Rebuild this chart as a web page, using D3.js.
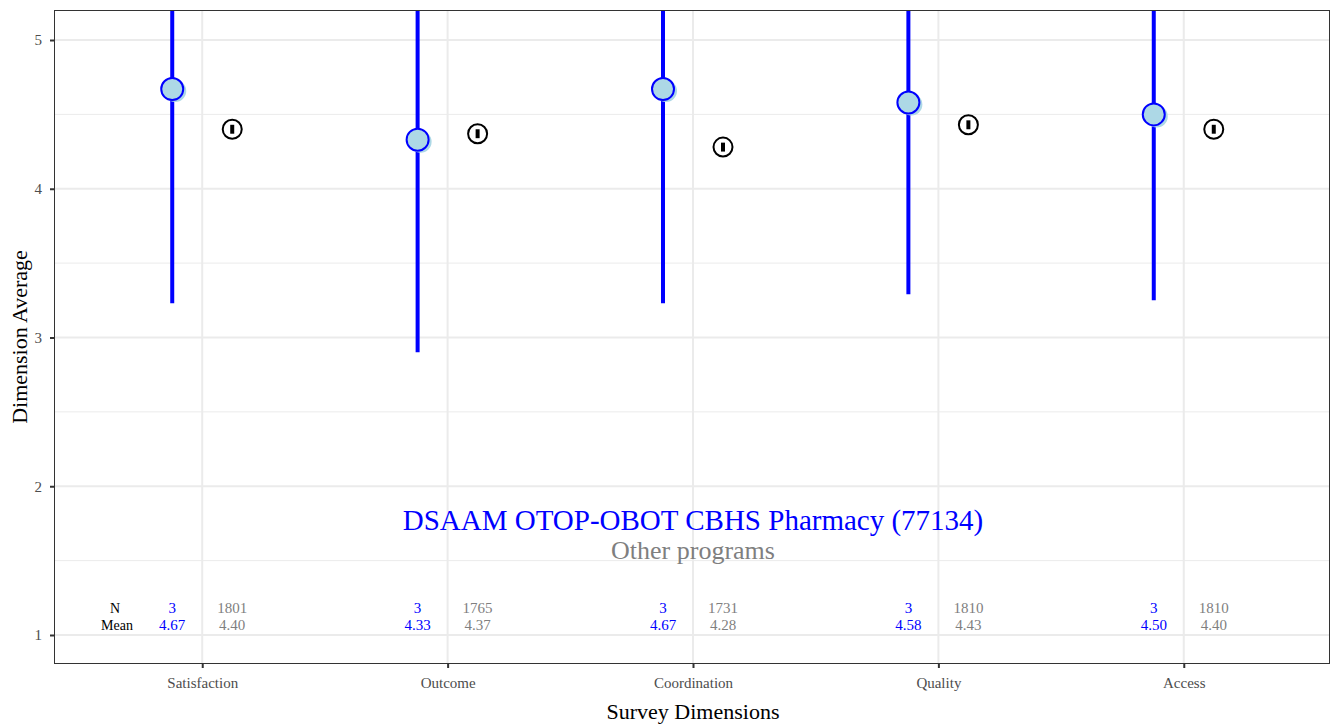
<!DOCTYPE html>
<html>
<head>
<meta charset="utf-8">
<script src="https://cdn.jsdelivr.net/npm/d3@7"></script>
<style>
  body { margin: 0; background: #fff; }
  text { font-family: "Liberation Serif", "DejaVu Serif", serif; }
</style>
</head>
<body>
<script>
const dimensions = ['Satisfaction', 'Outcome', 'Coordination', 'Quality', 'Access'];
const programMean = [4.67, 4.33, 4.67, 4.58, 4.50];
const programHalfCI = [1.44, 1.43, 1.44, 1.29, 1.25];
const programN = [3, 3, 3, 3, 3];
const otherMean = [4.40, 4.37, 4.28, 4.43, 4.40];
const otherHalfCI = [0.03, 0.03, 0.03, 0.03, 0.03];
const otherN = [1801, 1765, 1731, 1810, 1810];
const yTicks = [1, 2, 3, 4, 5];
const programName = 'DSAAM OTOP-OBOT CBHS Pharmacy (77134)';
const otherName = 'Other programs';

const width = 1331;
const height = 725;
const margin = { top: 10, right: 1, bottom: 61, left: 54 };
const blue = '#0000ff';
const gray = '#7f7f7f';

const svg = d3.select('body')
    .append('svg')
    .attr('width', width)
    .attr('height', height);

const xScale = d3.scalePoint()
    .domain(dimensions)
    .range([margin.left + 1, width])
    .padding(0.6);

const yScale = d3.scaleLinear()
    .domain([0.805, 5.2017])
    .range([height - margin.bottom, margin.top]);

const dodge = 30;

// grid
const grid = svg.append('g');
d3.range(1.5, 5.5, 1).forEach((v) => {
    grid.append('line')
        .attr('x1', margin.left).attr('x2', width - margin.right)
        .attr('y1', yScale(v)).attr('y2', yScale(v))
        .attr('stroke', '#ebebeb').attr('stroke-width', 1);
});
yTicks.forEach((v) => {
    grid.append('line')
        .attr('x1', margin.left).attr('x2', width - margin.right)
        .attr('y1', yScale(v)).attr('y2', yScale(v))
        .attr('stroke', '#ebebeb').attr('stroke-width', 2);
});
dimensions.forEach((d) => {
    grid.append('line')
        .attr('x1', xScale(d)).attr('x2', xScale(d))
        .attr('y1', margin.top).attr('y2', height - margin.bottom)
        .attr('stroke', '#ebebeb').attr('stroke-width', 2);
});

svg.append('clipPath').attr('id', 'panel')
    .append('rect')
    .attr('x', margin.left).attr('y', margin.top)
    .attr('width', width - margin.left - margin.right)
    .attr('height', height - margin.top - margin.bottom);

const plot = svg.append('g').attr('clip-path', 'url(#panel)');

// program error bars + points
dimensions.forEach((d, i) => {
    const x = xScale(d) - dodge;
    plot.append('line')
        .attr('x1', x).attr('x2', x)
        .attr('y1', yScale(programMean[i] - programHalfCI[i]))
        .attr('y2', yScale(programMean[i] + programHalfCI[i]))
        .attr('stroke', blue).attr('stroke-width', 4);
    plot.append('circle')
        .attr('cx', x + 3).attr('cy', yScale(programMean[i]) + 2)
        .attr('r', 11).attr('fill', '#add8e6');
    plot.append('circle')
        .attr('cx', x).attr('cy', yScale(programMean[i]))
        .attr('r', 11).attr('fill', '#add8e6')
        .attr('stroke', blue).attr('stroke-width', 2);
});

// other programs
dimensions.forEach((d, i) => {
    const x = xScale(d) + dodge;
    plot.append('circle')
        .attr('cx', x).attr('cy', yScale(otherMean[i]))
        .attr('r', 9.5).attr('fill', '#fff')
        .attr('stroke', '#000').attr('stroke-width', 2);
    plot.append('line')
        .attr('x1', x).attr('x2', x)
        .attr('y1', yScale(otherMean[i] - otherHalfCI[i]))
        .attr('y2', yScale(otherMean[i] + otherHalfCI[i]))
        .attr('stroke', '#000').attr('stroke-width', 4);
});

// N / Mean annotations
const yN = 1.18;
const yMean = 1.07;
plot.append('text').attr('x', 115).attr('y', yScale(yN) + 5)
    .attr('text-anchor', 'middle').attr('font-size', 14).text('N');
plot.append('text').attr('x', 117).attr('y', yScale(yMean) + 5)
    .attr('text-anchor', 'middle').attr('font-size', 14).text('Mean');
dimensions.forEach((d, i) => {
    const xp = xScale(d) - dodge;
    const xo = xScale(d) + dodge;
    plot.append('text').attr('x', xp).attr('y', yScale(yN) + 5)
        .attr('text-anchor', 'middle').attr('font-size', 15).attr('fill', blue)
        .text(programN[i]);
    plot.append('text').attr('x', xp).attr('y', yScale(yMean) + 5)
        .attr('text-anchor', 'middle').attr('font-size', 15).attr('fill', blue)
        .text(programMean[i].toFixed(2));
    plot.append('text').attr('x', xo).attr('y', yScale(yN) + 5)
        .attr('text-anchor', 'middle').attr('font-size', 15).attr('fill', gray)
        .text(otherN[i]);
    plot.append('text').attr('x', xo).attr('y', yScale(yMean) + 5)
        .attr('text-anchor', 'middle').attr('font-size', 15).attr('fill', gray)
        .text(otherMean[i].toFixed(2));
});

// legend text
const midX = xScale(dimensions[2]);
plot.append('text').attr('x', midX).attr('y', 530)
    .attr('text-anchor', 'middle').attr('font-size', 29).attr('fill', blue)
    .text(programName);
plot.append('text').attr('x', midX).attr('y', 559)
    .attr('text-anchor', 'middle').attr('font-size', 26).attr('fill', gray)
    .text(otherName);

// panel border
svg.append('rect')
    .attr('x', margin.left + 0.5).attr('y', margin.top + 0.5)
    .attr('width', width - margin.left - margin.right - 1)
    .attr('height', height - margin.top - margin.bottom - 1)
    .attr('fill', 'none').attr('stroke', '#333').attr('stroke-width', 1);

// axes
const xAxis = d3.axisBottom(xScale).tickSize(4).tickPadding(9);
const yAxis = d3.axisLeft(yScale).tickValues(yTicks).tickFormat(d3.format('d'))
    .tickSize(4).tickPadding(8);

const gx = svg.append('g')
    .attr('transform', 'translate(0,' + (height - margin.bottom) + ')')
    .call(xAxis);
const gy = svg.append('g')
    .attr('transform', 'translate(' + margin.left + ',0)')
    .call(yAxis);

[gx, gy].forEach((g) => {
    g.select('.domain').remove();
    g.selectAll('.tick line').attr('stroke', '#333').attr('stroke-width', 2);
    g.selectAll('.tick text')
        .attr('fill', '#4d4d4d')
        .attr('font-size', 15)
        .style('font-family', '"Liberation Serif", serif');
});

svg.append('text')
    .attr('x', xScale(dimensions[2]))
    .attr('y', 719)
    .attr('text-anchor', 'middle')
    .attr('font-size', 22)
    .text('Survey Dimensions');

svg.append('text')
    .attr('transform', 'translate(27,' + (margin.top + (height - margin.top - margin.bottom) / 2) + ') rotate(-90)')
    .attr('text-anchor', 'middle')
    .attr('font-size', 22)
    .text('Dimension Average');
</script>
</body>
</html>
